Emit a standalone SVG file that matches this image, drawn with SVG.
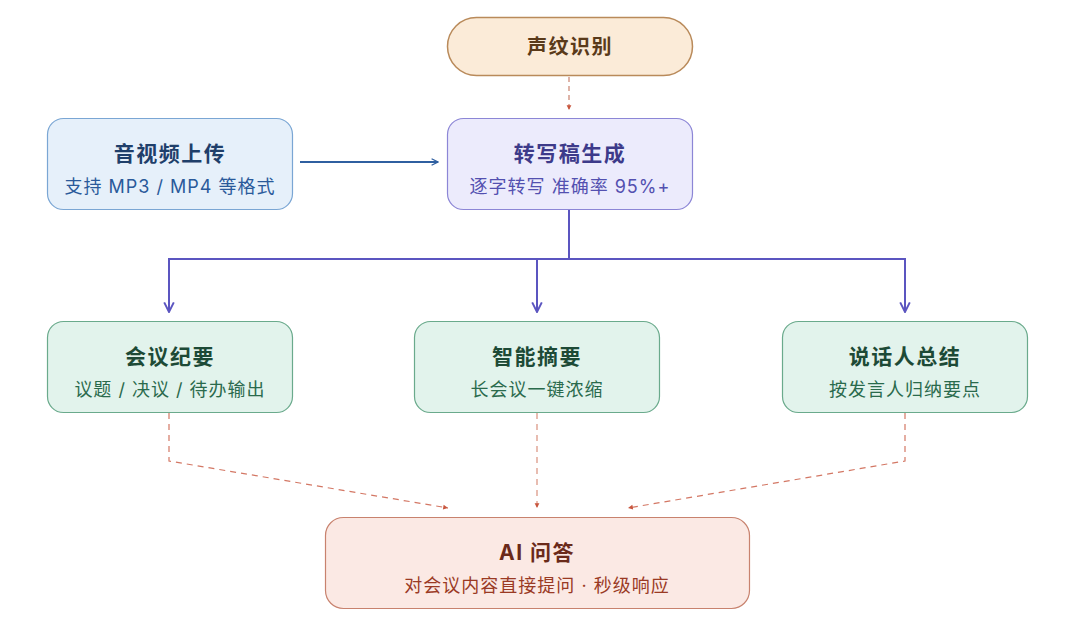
<svg xmlns="http://www.w3.org/2000/svg" width="1080" height="642" viewBox="0 0 1080 642">
<style>
text{font-family:Inter,"Noto Sans CJK SC",sans-serif;text-anchor:middle}
.t{font-size:21px;font-weight:700;letter-spacing:1.5px}
.s{font-size:18px;letter-spacing:1px}
</style>
<defs>
<marker id="ab" viewBox="0 0 10 10" refX="9" refY="5" markerWidth="8" markerHeight="8" orient="auto" markerUnits="userSpaceOnUse"><path d="M1,1 L9,5 L1,9" fill="none" stroke="#2f5fa0" stroke-width="1.6"/></marker>
<marker id="ap" viewBox="0 0 10 10" refX="9" refY="5" markerWidth="12" markerHeight="12" orient="auto" markerUnits="userSpaceOnUse"><path d="M1,1 L9,5 L1,9" fill="none" stroke="#5b55c0" stroke-width="1.6"/></marker>
<marker id="ar" viewBox="0 0 10 10" refX="9" refY="5" markerWidth="6" markerHeight="6" orient="auto" markerUnits="userSpaceOnUse"><path d="M1,1 L9,5 L1,9 Z" fill="#c8553d"/></marker>
</defs>
<g id="connectors" fill="none">
<path d="M569,77 V110" stroke="#c8826e" stroke-width="1.2" stroke-dasharray="5,4" marker-end="url(#ar)"/>
<path d="M300,162 H438" stroke="#2f5fa0" stroke-width="2" marker-end="url(#ab)"/>
<path d="M569,210 V259 M169,259 H905" stroke="#5b55c0" stroke-width="2"/>
<path d="M169,258 V312" stroke="#5b55c0" stroke-width="2" marker-end="url(#ap)"/>
<path d="M537,259 V312" stroke="#5b55c0" stroke-width="2" marker-end="url(#ap)"/>
<path d="M905,258 V312" stroke="#5b55c0" stroke-width="2" marker-end="url(#ap)"/>
<path d="M169,413 V461 L448,508" stroke="#c8553d" stroke-opacity="0.8" stroke-width="1.2" stroke-dasharray="6,5" marker-end="url(#ar)"/>
<path d="M537,413 V508" stroke="#d9917e" stroke-width="1.2" stroke-dasharray="6,5" marker-end="url(#ar)"/>
<path d="M905,413 V461 L628,508" stroke="#c8553d" stroke-opacity="0.8" stroke-width="1.2" stroke-dasharray="6,5" marker-end="url(#ar)"/>
</g>
<g id="n-voice">
<rect x="447.5" y="17.5" width="245" height="58" rx="29" fill="#fbebd8" stroke="#b98a5a" stroke-width="1.5"/>
<text class="t" x="570" y="54" fill="#5a3a1a" style="font-size:20px">声纹识别</text>
</g>
<g id="n-upload">
<rect x="47.5" y="118.5" width="245" height="91" rx="16" fill="#e6f0fa" stroke="#7aa6d4" stroke-width="1.2"/>
<text class="t" x="170" y="161" fill="#1f3f6a">音视频上传</text>
<text class="s" x="170" y="193" fill="#2a5a9a">支持 MP3 / MP4 等格式</text>
</g>
<g id="n-transcript">
<rect x="447.5" y="118.5" width="245" height="91" rx="16" fill="#ecebfc" stroke="#8c86d6" stroke-width="1.2"/>
<text class="t" x="570" y="161" fill="#3d3a8a">转写稿生成</text>
<text class="s" x="570" y="193" fill="#5350b0">逐字转写 准确率 95%+</text>
</g>
<g id="n-minutes">
<rect x="47.5" y="321.5" width="245" height="91" rx="16" fill="#e2f3ec" stroke="#6aaa8c" stroke-width="1.2"/>
<text class="t" x="170" y="364" fill="#1d4a36">会议纪要</text>
<text class="s" x="170" y="396" fill="#2a6a4c">议题 / 决议 / 待办输出</text>
</g>
<g id="n-summary">
<rect x="414.5" y="321.5" width="245" height="91" rx="16" fill="#e2f3ec" stroke="#6aaa8c" stroke-width="1.2"/>
<text class="t" x="537" y="364" fill="#1d4a36">智能摘要</text>
<text class="s" x="537" y="396" fill="#2a6a4c">长会议一键浓缩</text>
</g>
<g id="n-speaker">
<rect x="782.5" y="321.5" width="245" height="91" rx="16" fill="#e2f3ec" stroke="#6aaa8c" stroke-width="1.2"/>
<text class="t" x="905" y="364" fill="#1d4a36">说话人总结</text>
<text class="s" x="905" y="396" fill="#2a6a4c">按发言人归纳要点</text>
</g>
<g id="n-qa">
<rect x="325.5" y="517.5" width="424" height="91" rx="18" fill="#fbe9e4" stroke="#c8826e" stroke-width="1.2"/>
<text class="t" x="537" y="560" fill="#6a2a1a">AI 问答</text>
<text class="s" x="537" y="592" fill="#9a3a24">对会议内容直接提问 · 秒级响应</text>
</g>
</svg>
